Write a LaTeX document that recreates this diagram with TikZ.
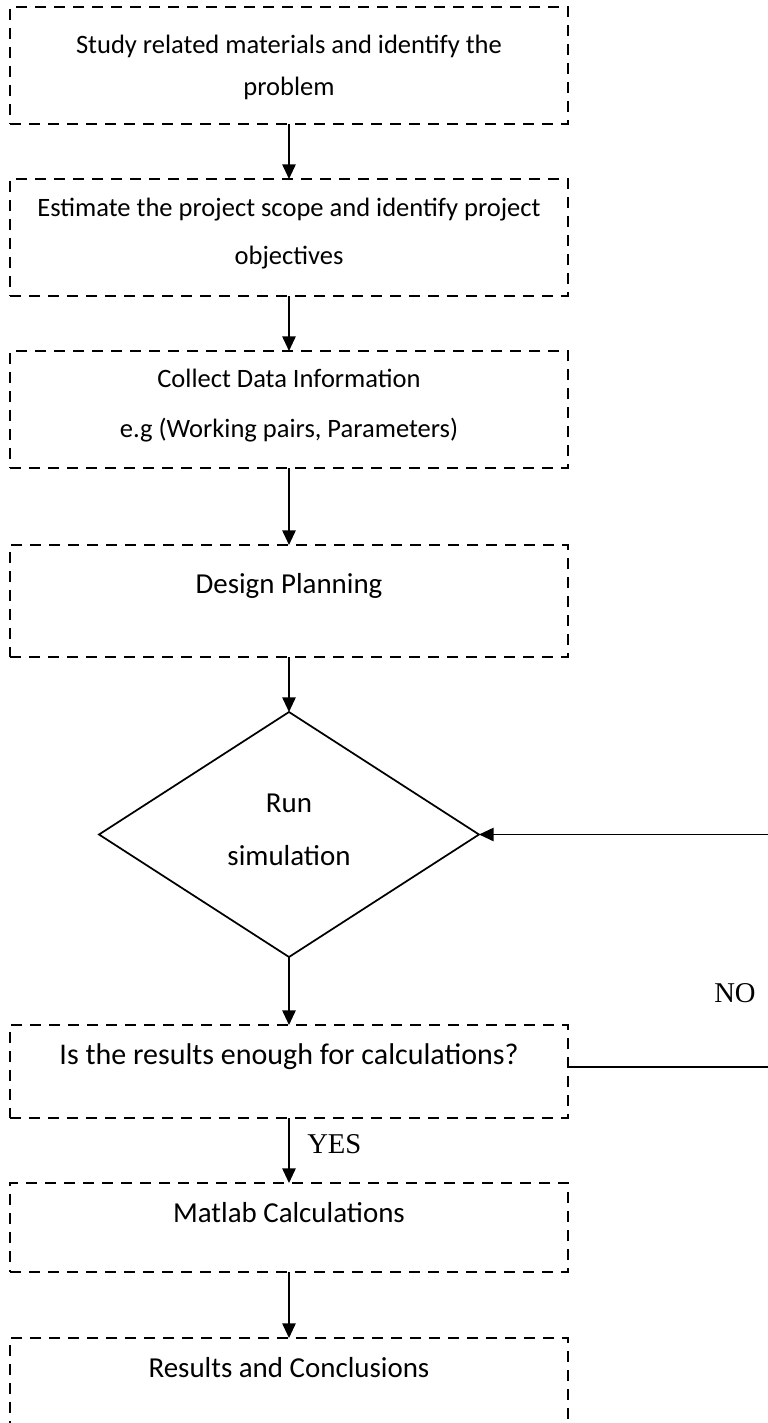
\documentclass[tikz,border=0pt]{standalone}
\usepackage{fontspec}
\setmainfont{Carlito}
\newfontfamily\labelserif{Liberation Serif}
\usetikzlibrary{arrows.meta,shapes.geometric}
\begin{document}
\begin{tikzpicture}[x=0.75pt,y=-0.75pt,
  stepbox/.style={draw, rectangle, line width=1.9pt, dash pattern=on 8.25pt off 6pt,
    minimum width=418.5pt, inner sep=0pt, outer sep=0pt},
  decision/.style={draw, diamond, line width=1.3pt, inner sep=0pt, outer sep=0pt,
    minimum width=285pt, minimum height=183.75pt},
  flow/.style={line width=1.3pt, -{Triangle[length=11pt,width=10pt]}},
  plain/.style={line width=1.3pt},
  smalltxt/.style={font=\fontsize{19.9}{24}\selectfont, inner sep=0pt, anchor=base},
  bigtxt/.style={font=\fontsize{21.7}{26}\selectfont, inner sep=0pt, anchor=base},
  answer/.style={font=\labelserif\fontsize{21.5}{26}\selectfont, inner sep=0pt, anchor=base west},
]
\useasboundingbox (0,0) rectangle (767,1423);

% process boxes
\node[stepbox, minimum height=87.75pt] (b1) at (289,65.5) {};
\node[stepbox, minimum height=87.75pt] (b2) at (289,237.5) {};
\node[stepbox, minimum height=87.75pt] (b3) at (289,409.5) {};
\node[stepbox, minimum height=84pt]    (b4) at (289,601) {};
\node[decision] (dia) at (289,834.5) {};
\node[stepbox, minimum height=69.75pt] (b5) at (289,1071.5) {};
\node[stepbox, minimum height=66.75pt] (b6) at (289,1227.5) {};
\node[stepbox, minimum height=84pt]    (b7) at (289,1394) {};

% box texts
\node[smalltxt] (t1a) at (289,54)  {Study related materials and identify the};
\node[smalltxt] (t1b) at (289,96)  {problem};
\node[smalltxt] (t2a) at (289,217) {Estimate the project scope and identify project};
\node[smalltxt] (t2b) at (289,264) {objectives};
\node[smalltxt] (t3a) at (289,387) {Collect Data Information};
\node[smalltxt] (t3b) at (289,437) {e.g (Working pairs, Parameters)};
\node[bigtxt]   (t4)  at (289,593) {Design Planning};
\node[bigtxt]   (tr)  at (289,812) {Run};
\node[bigtxt]   (ts)  at (289,865) {simulation};
\node[bigtxt, font=\fontsize{22.5}{27}\selectfont] (t5) at (289,1064) {Is the results enough for calculations?};
\node[bigtxt]   (t6)  at (289,1222) {Matlab Calculations};
\node[bigtxt]   (t7)  at (289,1377) {Results and Conclusions};

% branch labels
\node[answer] (yes) at (307,1153) {YES};
\node[answer] (no)  at (714,1002) {NO};

% main flow
\draw[flow] (b1.south) -- (b2.north);
\draw[flow] (b2.south) -- (b3.north);
\draw[flow] (b3.south) -- (b4.north);
\draw[flow] (b4.south) -- (dia.north);
\draw[flow] (dia.south) -- (b5.north);
\draw[flow] (b5.south) -- (b6.north);
\draw[flow] (b6.south) -- (b7.north);

% loop back from the check to the simulation
\coordinate (loopin)  at (770,834.5);
\coordinate (loopout) at (770,1067);
\draw[flow] (loopin) -- (dia.east);
\draw[plain] (loopout -| b5.east) -- (loopout);
\end{tikzpicture}
\end{document}
